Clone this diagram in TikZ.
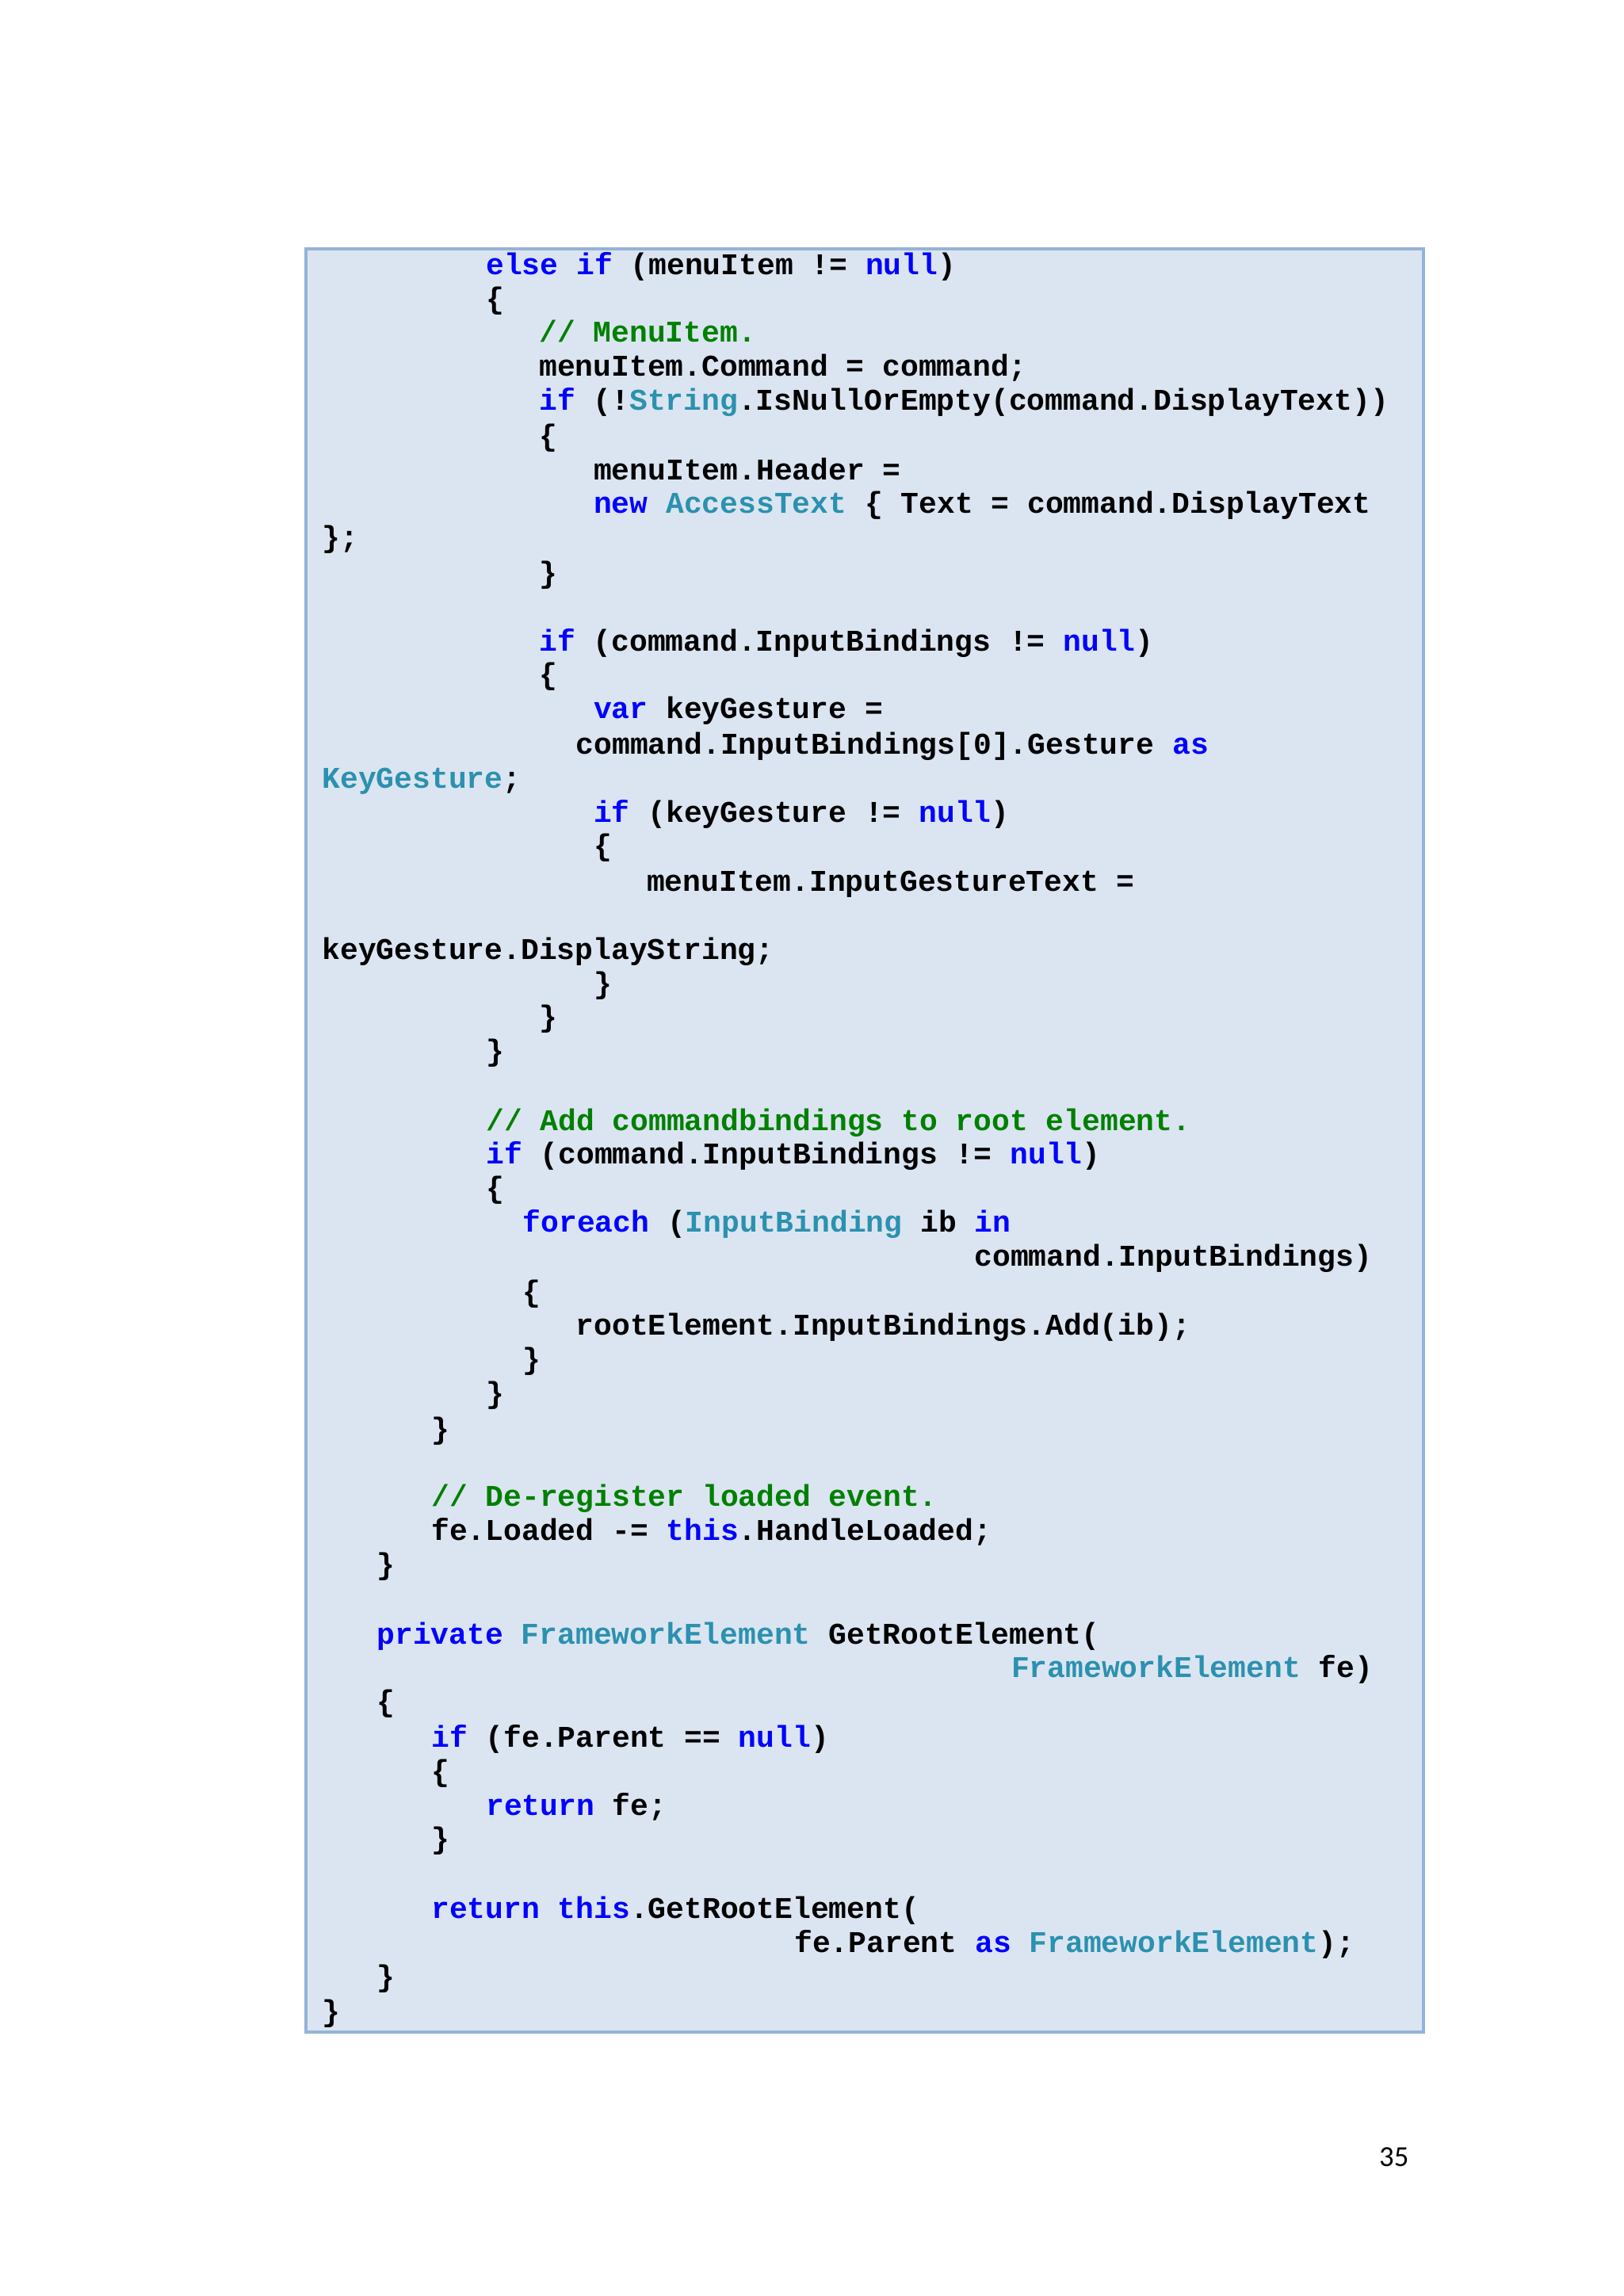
\documentclass[tikz,border=0pt]{standalone}
\usepackage{fontspec}
\newfontfamily\codefont[Ligatures=NoCommon]{Liberation Mono Bold}
\newfontfamily\pgfont{Carlito}
\definecolor{kw}{RGB}{0,0,255}
\definecolor{ty}{RGB}{43,145,175}
\definecolor{cmt}{RGB}{0,128,0}
\definecolor{boxfill}{RGB}{219,229,241}
\definecolor{boxline}{RGB}{149,179,215}
\newcommand{\kw}[1]{\textcolor{kw}{#1}}
\newcommand{\ty}[1]{\textcolor{ty}{#1}}
\newcommand{\cm}[1]{\textcolor{cmt}{#1}}
\tikzset{codeline/.style={anchor=base west,inner sep=0pt,font=\codefont\fontsize{11.4pt}{13pt}\selectfont}}
\begin{document}
\begin{tikzpicture}[x=0.5586pt,y=-0.5586pt]
\useasboundingbox (0,0) rectangle (1100,1556);
\fill[white] (0,0) rectangle (1100,1556);
\draw[boxline,fill=boxfill,line width=1.2pt] (207.5,168.5) rectangle (964.5,1377);
\def\L#1#2#3{\node[codeline] (#1) at (#2) {#3};}
\L{l1}{329,186}{\kw{else if} (menuItem != \kw{null})}
\L{l2}{329,209}{\{}
\L{l3}{365,232}{\cm{// MenuItem.}}
\L{l4}{365,255}{menuItem.Command = command;}
\L{l5}{365,278}{\kw{if} (!\ty{String}.IsNullOrEmpty(command.DisplayText))}
\L{l6}{365,302}{\{}
\L{l7}{402,325}{menuItem.Header =}
\L{l8}{402,348}{\kw{new} \ty{AccessText} \{ Text = command.DisplayText}
\L{l9}{218,371}{\};}
\L{l10}{365,395}{\}}
\L{l12}{365,441}{\kw{if} (command.InputBindings != \kw{null})}
\L{l13}{365,464}{\{}
\L{l14}{402,487}{\kw{var} keyGesture =}
\L{l15}{390,511}{command.InputBindings[0].Gesture \kw{as}}
\L{l16}{218,534}{\ty{KeyGesture};}
\L{l17}{402,557}{\kw{if} (keyGesture != \kw{null})}
\L{l18}{402,580}{\{}
\L{l19}{438,604}{menuItem.InputGestureText =}
\L{l21}{218,650}{keyGesture.DisplayString;}
\L{l22}{402,673}{\}}
\L{l23}{365,696}{\}}
\L{l24}{329,719}{\}}
\L{l26}{329,766}{\cm{// Add commandbindings to root element.}}
\L{l27}{329,789}{\kw{if} (command.InputBindings != \kw{null})}
\L{l28}{329,812}{\{}
\L{l29}{354,835}{\kw{foreach} (\ty{InputBinding} ib \kw{in}}
\L{l30}{660,858}{command.InputBindings)}
\L{l31}{354,882}{\{}
\L{l32}{390,905}{rootElement.InputBindings.Add(ib);}
\L{l33}{354,928}{\}}
\L{l34}{329,951}{\}}
\L{l35}{292,975}{\}}
\L{l37}{292,1021}{\cm{// De-register loaded event.}}
\L{l38}{292,1044}{fe.Loaded -= \kw{this}.HandleLoaded;}
\L{l39}{255,1067}{\}}
\L{l41}{255,1114}{\kw{private} \ty{FrameworkElement} GetRootElement(}
\L{l42}{685,1137}{\ty{FrameworkElement} fe)}
\L{l43}{255,1160}{\{}
\L{l44}{292,1184}{\kw{if} (fe.Parent == \kw{null})}
\L{l45}{292,1207}{\{}
\L{l46}{329,1230}{\kw{return} fe;}
\L{l47}{292,1253}{\}}
\L{l49}{292,1300}{\kw{return} \kw{this}.GetRootElement(}
\L{l50}{538,1323}{fe.Parent \kw{as} \ty{FrameworkElement});}
\L{l51}{255,1346}{\}}
\L{l52}{218,1370}{\}}
\node[anchor=base east,inner sep=0pt,font=\pgfont\fontsize{11pt}{13pt}\selectfont] (pg) at (955,1468) {35};
\end{tikzpicture}
\end{document}
